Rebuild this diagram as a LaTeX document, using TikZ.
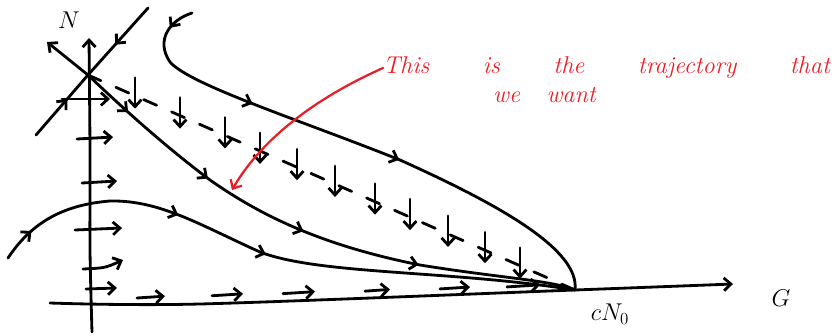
\documentclass[tikz,border=0pt]{standalone}
\usepackage{tikz}
\usetikzlibrary{arrows.meta, decorations.markings, calc, positioning}
\definecolor{inkred}{RGB}{236, 28, 36}
\tikzset{
    ink/.style={line width=2.4pt, line cap=round, line join=round},
    barb/.style={-{Straight Barb[length=6pt, width=11pt]}},
    midtip/.style={postaction={decorate, decoration={markings, mark=at position #1 with {\arrow{Straight Barb[length=6pt, width=11pt]}}}}},
    axislabel/.style={font=\huge, inner sep=0pt},
    note/.style={text=inkred, font=\huge\itshape, inner sep=0pt}
}
\begin{document}
\begin{tikzpicture}[x=0.03cm, y=-0.03cm]
    \useasboundingbox (0,0) rectangle (832,336);
    % fixed points
    \coordinate (fix) at (88,75);
    \coordinate (cnz) at (575,290);
    \coordinate (sa) at (148,8);
    \coordinate (sb) at (36,135);

    % axes
    \draw[ink, barb] plot[smooth] coordinates {(92,332) (90,250) (90,150) (89,38)};
    \draw[ink, barb] plot[smooth] coordinates {(50,303) (200,304) (cnz) (733,284)};
    \node[axislabel] (nlab) at (69,20) {$N$};
    \node[axislabel] (glab) at (781,298) {$G$};
    \node[axislabel] (cnlab) at (610,314) {$cN_0$};

    % saddle at (fix)
    \draw[ink, midtip=0.55] (sa) -- (fix);
    \draw[ink, midtip=0.6] (sb) -- (fix);
    \draw[ink, barb] (fix) -- (47,42);

    % trajectories
    \draw[ink, midtip=0.1, midtip=0.29, midtip=0.49, midtip=0.71] (fix) .. controls (130,115) and (170,150) .. (210,180) .. controls (260,215) and (320,245) .. (420,265) .. controls (500,278) and (550,280) .. (cnz);
    \draw[ink, midtip=0.06, midtip=0.32, midtip=0.48] (8,258) .. controls (30,225) and (60,205) .. (110,201) .. controls (160,200) and (200,225) .. (260,252) .. controls (320,275) and (450,270) .. (cnz);
    \draw[ink, midtip=0.05, midtip=0.29, midtip=0.58] (192,13) .. controls (170,20) and (155,40) .. (170,62) .. controls (190,85) and (300,120) .. (400,160) .. controls (500,205) and (580,250) .. (cnz);

    % nullcline with downward flow
    \draw[ink, dash pattern=on 12pt off 14pt] (fix) -- (cnz);
    \foreach \x in {135,180,225,260,297,335,375,410,448,485,520} {
        \draw[ink, barb] ($(fix)!{(\x-88)/487}!(cnz)$) ++(0,-18) -- ++(0,31);
    }

    % flow near the axes
    \draw[ink, barb] (62,99) -- (110,99);
    \draw[ink, barb] (77,139) -- (113,137);
    \draw[ink, barb] (82,183) -- (117,181);
    \draw[ink, barb] (75,230) -- (122,228);
    \draw[ink, barb] (83,269) .. controls (105,268) .. (123,260);
    \draw[ink, barb] (86,289) -- (117,288);
    \foreach \a/\b in {137/165, 212/243, 283/315, 365/390, 440/470, 507/540} {
        \draw[ink, barb] (\a,{298-(\a-137)*0.03}) -- (\b,{297-(\b-137)*0.03});
    }

    % annotation
    \node[note, anchor=west, text width=13.4cm] (note1) at (383,68) {This\hfill is\hfill the\hfill trajectory\hfill that};
    \node[note, anchor=west] (note2) at (493,95) {we\hspace{0.8cm}want};
    \draw[inkred, line width=1.9pt, line cap=round, -{Straight Barb[length=6pt, width=11pt]}] (note1.west) .. controls (300,105) and (255,150) .. (232,190);
\end{tikzpicture}
\end{document}
